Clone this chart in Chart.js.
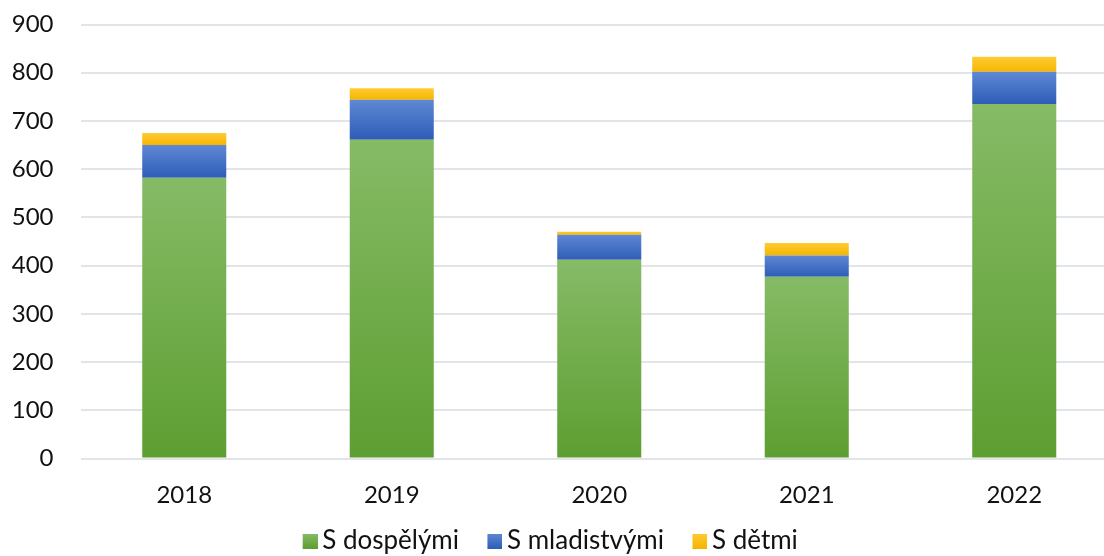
<!DOCTYPE html>
<html>
<head>
<meta charset="utf-8">
<script src="https://cdn.jsdelivr.net/npm/chart.js@4.4.1/dist/chart.umd.min.js"></script>
<style>
html,body{margin:0;padding:0;background:#fff;overflow:hidden;}
#wrap{width:1118px;height:556px;}
</style>
</head>
<body>
<div id="wrap"><canvas id="c" width="1118" height="556"></canvas></div>
<script>
const categories = ['2018', '2019', '2020', '2021', '2022'];
const sDospelymi = [582, 661, 412, 377, 735];
const sMladistvymi = [68, 83, 52, 44, 67];
const sDetmi = [25, 24, 6, 26, 31];
const seriesNames = ['S dospělými', 'S mladistvými', 'S dětmi'];
const yTicks = [0, 100, 200, 300, 400, 500, 600, 700, 800, 900];

const allSeries = [sDospelymi, sMladistvymi, sDetmi];
const palettes = [
  {top: '#86bb66', bottom: '#5d9e31', solid: '#70ad47'},
  {top: '#5f88d4', bottom: '#2e5db7', solid: '#4472c4'},
  {top: '#ffcb33', bottom: '#f4b600', solid: '#ffc000'}
];

function gradFor(dsIndex) {
  return function(ctx) {
    const chart = ctx.chart;
    const p = palettes[dsIndex];
    if (ctx.type !== 'data' || !chart.chartArea || !chart.scales.y) return p.solid;
    const j = ctx.dataIndex;
    let base = 0;
    for (let k = 0; k < dsIndex; k++) base += allSeries[k][j];
    const top = base + allSeries[dsIndex][j];
    const y0 = chart.scales.y.getPixelForValue(top);
    const y1 = chart.scales.y.getPixelForValue(base);
    if (!isFinite(y0) || !isFinite(y1) || y0 === y1) return p.solid;
    const g = chart.ctx.createLinearGradient(0, y0, 0, y1);
    g.addColorStop(0, p.top);
    g.addColorStop(1, p.bottom);
    return g;
  };
}

// legend swatch image: 34 wide, coloured 15x15 square on its right part
function legendSwatch(p) {
  const cv = document.createElement('canvas');
  cv.width = 34; cv.height = 15;
  const c = cv.getContext('2d');
  const g = c.createLinearGradient(0, 0, 0, 15);
  g.addColorStop(0, p.top);
  g.addColorStop(1, p.bottom);
  c.fillStyle = g;
  c.fillRect(19, 0, 15, 15);
  return cv;
}
const swatches = palettes.map(legendSwatch);

const datasets = seriesNames.map((name, i) => ({
  label: name,
  data: allSeries[i],
  backgroundColor: gradFor(i),
  borderWidth: 0,
  categoryPercentage: 1.0,
  barPercentage: 0.405
}));

const FONT = 'Lato';

new Chart(document.getElementById('c'), {
  type: 'bar',
  data: { labels: categories, datasets: datasets },
  options: {
    responsive: false,
    animation: false,
    devicePixelRatio: 1,
    layout: { padding: { left: -28, right: 0, top: 24.5, bottom: -8 } },
    plugins: {
      legend: {
        position: 'bottom',
        labels: {
          font: { family: FONT, size: 26 },
          color: '#111',
          usePointStyle: true,
          boxWidth: 17,
          boxHeight: 15,
          padding: 18,
          generateLabels(chart) {
            return chart.data.datasets.map((ds, i) => ({
              text: ds.label,
              fillStyle: palettes[i].solid,
              strokeStyle: palettes[i].solid,
              pointStyle: swatches[i],
              lineWidth: 0,
              hidden: false,
              datasetIndex: i,
              fontColor: '#111'
            }));
          }
        }
      },
      tooltip: { enabled: false }
    },
    scales: {
      x: {
        stacked: true,
        grid: { display: false, drawTicks: false },
        border: { display: false },
        ticks: { font: { family: FONT, size: 24 }, color: '#111', padding: 22.5 },
        afterFit(axis) { axis.height = 51.5; }
      },
      y: {
        stacked: true,
        min: 0,
        max: 900,
        afterBuildTicks(axis) { axis.ticks = yTicks.map(v => ({ value: v })); },
        afterFit(axis) { axis.width = 108.5; axis.paddingTop = 0; axis.paddingBottom = 0; },
        grid: { color: '#e1e4e9', lineWidth: 2, drawTicks: false },
        border: { display: false },
        ticks: { font: { family: FONT, size: 24 }, color: '#111', padding: 27 }
      }
    }
  }
});
</script>
</body>
</html>
